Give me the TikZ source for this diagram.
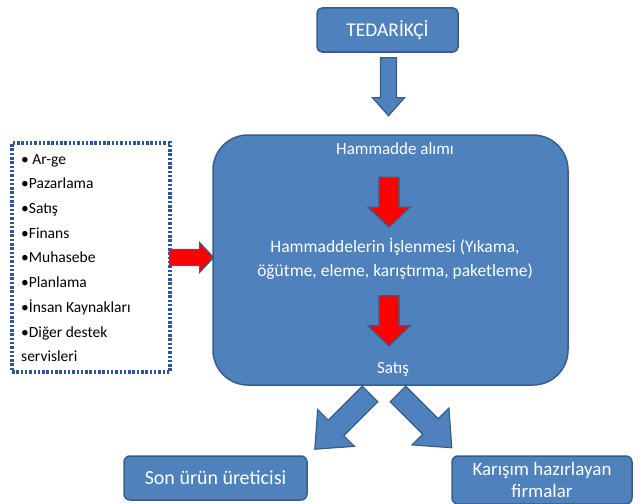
\documentclass[tikz,border=0pt]{standalone}
\usepackage{fontspec}
\setmainfont{Carlito}
\usetikzlibrary{calc}
\definecolor{boxblue}{HTML}{4F81BD}
\definecolor{edgeblue}{HTML}{385D8A}
\definecolor{dotblue}{HTML}{2F5597}
\tikzset{
  flowbox/.style={draw=edgeblue, line width=1.5pt, fill=boxblue, text=white, align=center, inner sep=0pt},
  whitetext/.style={text=white, align=center, inner sep=0pt},
  bluearrow/.style={draw=edgeblue, line width=1.2pt, fill=boxblue},
  redarrow/.style={draw=edgeblue, line width=1.2pt, fill=red},
  pics/blockarrow/.style n args={4}{code={
    \path[pic actions] (0,-#2) -- ({#1-#4},-#2) -- ({#1-#4},-#3) -- (#1,0)
      -- ({#1-#4},#3) -- ({#1-#4},#2) -- (0,#2) -- cycle;}}
}
\begin{document}
\begin{tikzpicture}[x=1pt,y=-1pt]
\useasboundingbox (0,0) rectangle (644,503);

% supplier
\node[flowbox, rounded corners=5pt, minimum width=141pt, minimum height=44pt,
      font=\fontsize{19.5}{22}\selectfont] (ted) at (387.5,30) {TEDARİKÇİ};

% main process block
\node[flowbox, rounded corners=35pt, minimum width=355pt, minimum height=250pt] (main) at (390.5,260) {};
\node[whitetext, font=\fontsize{17}{20}\selectfont] (alim) at (395,149) {Hammadde alımı};
\node[whitetext, font=\fontsize{17.5}{24}\selectfont] (islem) at (395,259)
  {Hammaddelerin İşlenmesi (Yıkama,\\öğütme, eleme, karıştırma, paketleme)};
\node[whitetext, font=\fontsize{17}{20}\selectfont] (satis) at (393,369) {Satış};

% support functions
\node[draw=dotblue, line width=3.2pt, dash pattern=on 2.5pt off 1.8pt, minimum width=158pt,
      minimum height=229pt, inner sep=0pt] (destek) at (91,257.5) {};
\node[anchor=north west, align=left, inner sep=0pt, font=\fontsize{15.5}{24.7}\selectfont]
  (liste) at (21,154) {• Ar-ge\\•Pazarlama\\•Satış\\•Finans\\•Muhasebe\\•Planlama\\•İnsan Kaynakları\\•Diğer destek\\servisleri};

% customers
\node[flowbox, rounded corners=6pt, minimum width=183pt, minimum height=44pt,
      font=\fontsize{20}{22}\selectfont] (son) at (215.5,478) {Son ürün üreticisi};
\node[flowbox, rounded corners=6pt, minimum width=180pt, minimum height=48pt,
      font=\fontsize{19}{22}\selectfont] (karisim) at (542,480) {Karışım hazırlayan\\firmalar};

% block arrows
\pic[bluearrow, rotate=-90] at ($(ted.south)+(1,5)$) {blockarrow={58}{8}{16}{18}};
\pic[redarrow, rotate=-90] at ($(alim.south)+(-6,22)$) {blockarrow={50}{10}{21}{20}};
\pic[redarrow, rotate=-90] at ($(islem.south)+(-6,16)$) {blockarrow={50}{10}{21}{20}};
\pic[redarrow] at ($(destek.east)+(-2,0)$) {blockarrow={44}{8}{15}{14}};
\pic[bluearrow, rotate=225] at (370,394) {blockarrow={78}{11}{26}{30}};
\pic[bluearrow, rotate=-45] at (398,394) {blockarrow={76}{11}{26}{30}};
\end{tikzpicture}
\end{document}
